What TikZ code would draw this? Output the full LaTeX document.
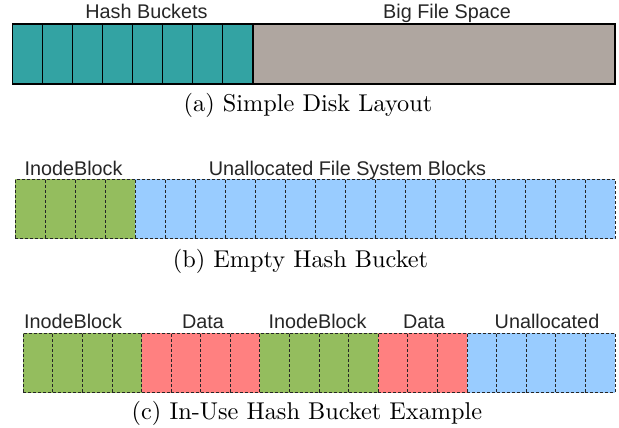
\documentclass[tikz,border=0pt]{standalone}
\usepackage{fontspec}
\newfontfamily\labelfont{Liberation Sans}
\newfontfamily\capfont{lmroman10-regular.otf}
\definecolor{bucketteal}{RGB}{51,163,163}
\definecolor{bigfilegray}{RGB}{175,166,160}
\definecolor{inodegreen}{RGB}{148,189,94}
\definecolor{datared}{RGB}{255,128,128}
\definecolor{freeblue}{RGB}{153,204,255}
\tikzset{
  solidcell/.style={draw=black, line width=1.2pt, inner sep=0pt, outer sep=0pt, minimum height=60pt},
  dashcell/.style={draw=black!85, line width=1pt, dash pattern=on 3pt off 2pt,
                   inner sep=0pt, outer sep=0pt, minimum height=59.5pt},
  partlabel/.style={font=\labelfont\fontsize{19.8}{23}\selectfont, text=black!85, anchor=base, inner sep=0pt},
  caption/.style={font=\capfont\fontsize{24.3}{29}\selectfont, anchor=base, inner sep=0pt}
}
\begin{document}
\begin{tikzpicture}[x=1pt,y=-1pt]
\useasboundingbox (0,0) rectangle (619,428);

% (a) simple disk layout: eight hash buckets and the big file space
\node[solidcell, fill=bigfilegray, minimum width=362pt] (bigfile) at (434,54) {};
\foreach \i in {0,...,7}{
  \node[solidcell, fill=bucketteal, minimum width=30pt] (bucket\i) at ({27.3+30*\i},54) {};
}
\node[partlabel] (lblbuckets) at (146.5,18.3) {Hash Buckets};
\node[partlabel] (lblbigfile) at (447,18.3) {Big File Space};
\node[caption] (capa) at (308,111.5) {(a) Simple Disk Layout};

% (b) empty hash bucket: one inode block, the rest unallocated
\foreach \i in {0,...,3}{
  \node[dashcell, fill=inodegreen, minimum width=30pt] (binode\i) at ({30+30*\i},209.2) {};
}
\foreach \i in {4,...,19}{
  \node[dashcell, fill=freeblue, minimum width=30pt] (bfree\i) at ({30+30*\i},209.2) {};
}
\node[partlabel] (lblbinode) at (73.5,175) {InodeBlock};
\node[partlabel] (lblbfree) at (347.5,175) {Unallocated File System Blocks};
\node[caption] (capb) at (300.5,267.5) {(b) Empty Hash Bucket};

% (c) hash bucket in use: inode, data, inode, data, free
\foreach \i/\c in {0/inodegreen,1/inodegreen,2/inodegreen,3/inodegreen,
                   4/datared,5/datared,6/datared,7/datared,
                   8/inodegreen,9/inodegreen,10/inodegreen,11/inodegreen,
                   12/datared,13/datared,14/datared,
                   15/freeblue,16/freeblue,17/freeblue,18/freeblue,19/freeblue}{
  \node[dashcell, fill=\c, minimum width=29.6pt] (cblk\i) at ({38.1+29.585*\i},362.8) {};
}
\node[partlabel] (lblcinodeA) at (73,328.3) {InodeBlock};
\node[partlabel] (lblcdataA) at (203,328.3) {Data};
\node[partlabel] (lblcinodeB) at (317.5,328.3) {InodeBlock};
\node[partlabel] (lblcdataB) at (424,328.3) {Data};
\node[partlabel] (lblcfree) at (547,328.3) {Unallocated};
\node[caption] (capc) at (307,419) {(c) In-Use Hash Bucket Example};
\end{tikzpicture}
\end{document}
